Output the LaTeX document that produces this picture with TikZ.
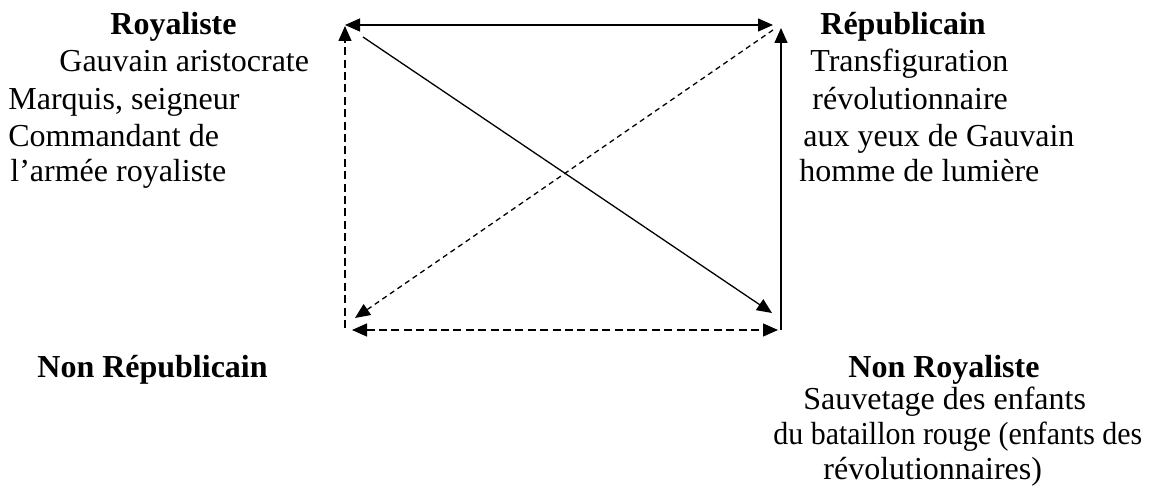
\documentclass[tikz,border=0pt]{standalone}
\usepackage{fontspec}
\setmainfont{Liberation Serif}
\usepackage{graphicx}
\usetikzlibrary{arrows.meta}
\begin{document}
\begin{tikzpicture}[x=0.5pt,y=-0.5pt,
  txt/.style={anchor=base west,inner sep=0pt,font=\fontsize{16}{18}\selectfont},
  ttl/.style={txt,font=\fontsize{16}{18}\selectfont\bfseries},
  ln/.style={line width=0.65pt},
  tip/.style={-{Triangle[length=7.5pt,width=6.5pt]}},
  dtip/.style={{Triangle[length=7.5pt,width=6.5pt]}-{Triangle[length=7.5pt,width=6.5pt]}},
  longdash/.style={dash pattern=on 4pt off 2.2pt},
  shortdash/.style={dash pattern=on 2.6pt off 2pt}]
\useasboundingbox (0,0) rectangle (1152,496);
% endpoints
\coordinate (TL) at (345,25);
\coordinate (TR) at (773,25);
\coordinate (Lbot) at (345,328);
\coordinate (Ltop) at (345,26);
\coordinate (Rbot) at (781,330);
\coordinate (Rtop) at (781,28);
\coordinate (BL) at (352,330);
\coordinate (BR) at (778,330);
\coordinate (D1s) at (363,37);
\coordinate (D1e) at (772,313);
\coordinate (D2s) at (773,30);
\coordinate (D2e) at (355,318);
% arrows
\draw[ln,dtip] (TL) -- (TR);
\draw[ln,tip,longdash] (Lbot) -- (Ltop);
\draw[ln,tip] (Rbot) -- (Rtop);
\draw[ln,dtip,longdash] (BL) -- (BR);
\draw[ln,tip] (D1s) -- (D1e);
\draw[ln,tip,shortdash] (D2s) -- (D2e);
% left texts
\node[ttl] (roy) at (110,35) {Royaliste};
\node[txt] (l1) at (59,72) {Gauvain aristocrate};
\node[txt] (l2) at (8,110) {Marquis, seigneur};
\node[txt] (l3) at (8,147) {Commandant de};
\node[txt] (l4) at (10,182) {l’armée royaliste};
% right texts
\node[ttl] (rep) at (820,35) {Républicain};
\node[txt] (r1) at (810,72) {Transfiguration};
\node[txt] (r2) at (812,110) {révolutionnaire};
\node[txt] (r3) at (803,147) {aux yeux de Gauvain};
\node[txt] (r4) at (799,182) {homme de lumière};
% bottom texts
\node[ttl] (nrep) at (37,378) {Non Républicain};
\node[ttl] (nroy) at (848,378) {Non Royaliste};
\node[txt] (b1) at (803,410) {Sauvetage des enfants};
\node[txt] (b2) at (773,445) {\scalebox{0.935}[1]{du bataillon rouge (enfants des}};
\node[txt] (b3) at (823,480) {révolutionnaires)};
\end{tikzpicture}
\end{document}
